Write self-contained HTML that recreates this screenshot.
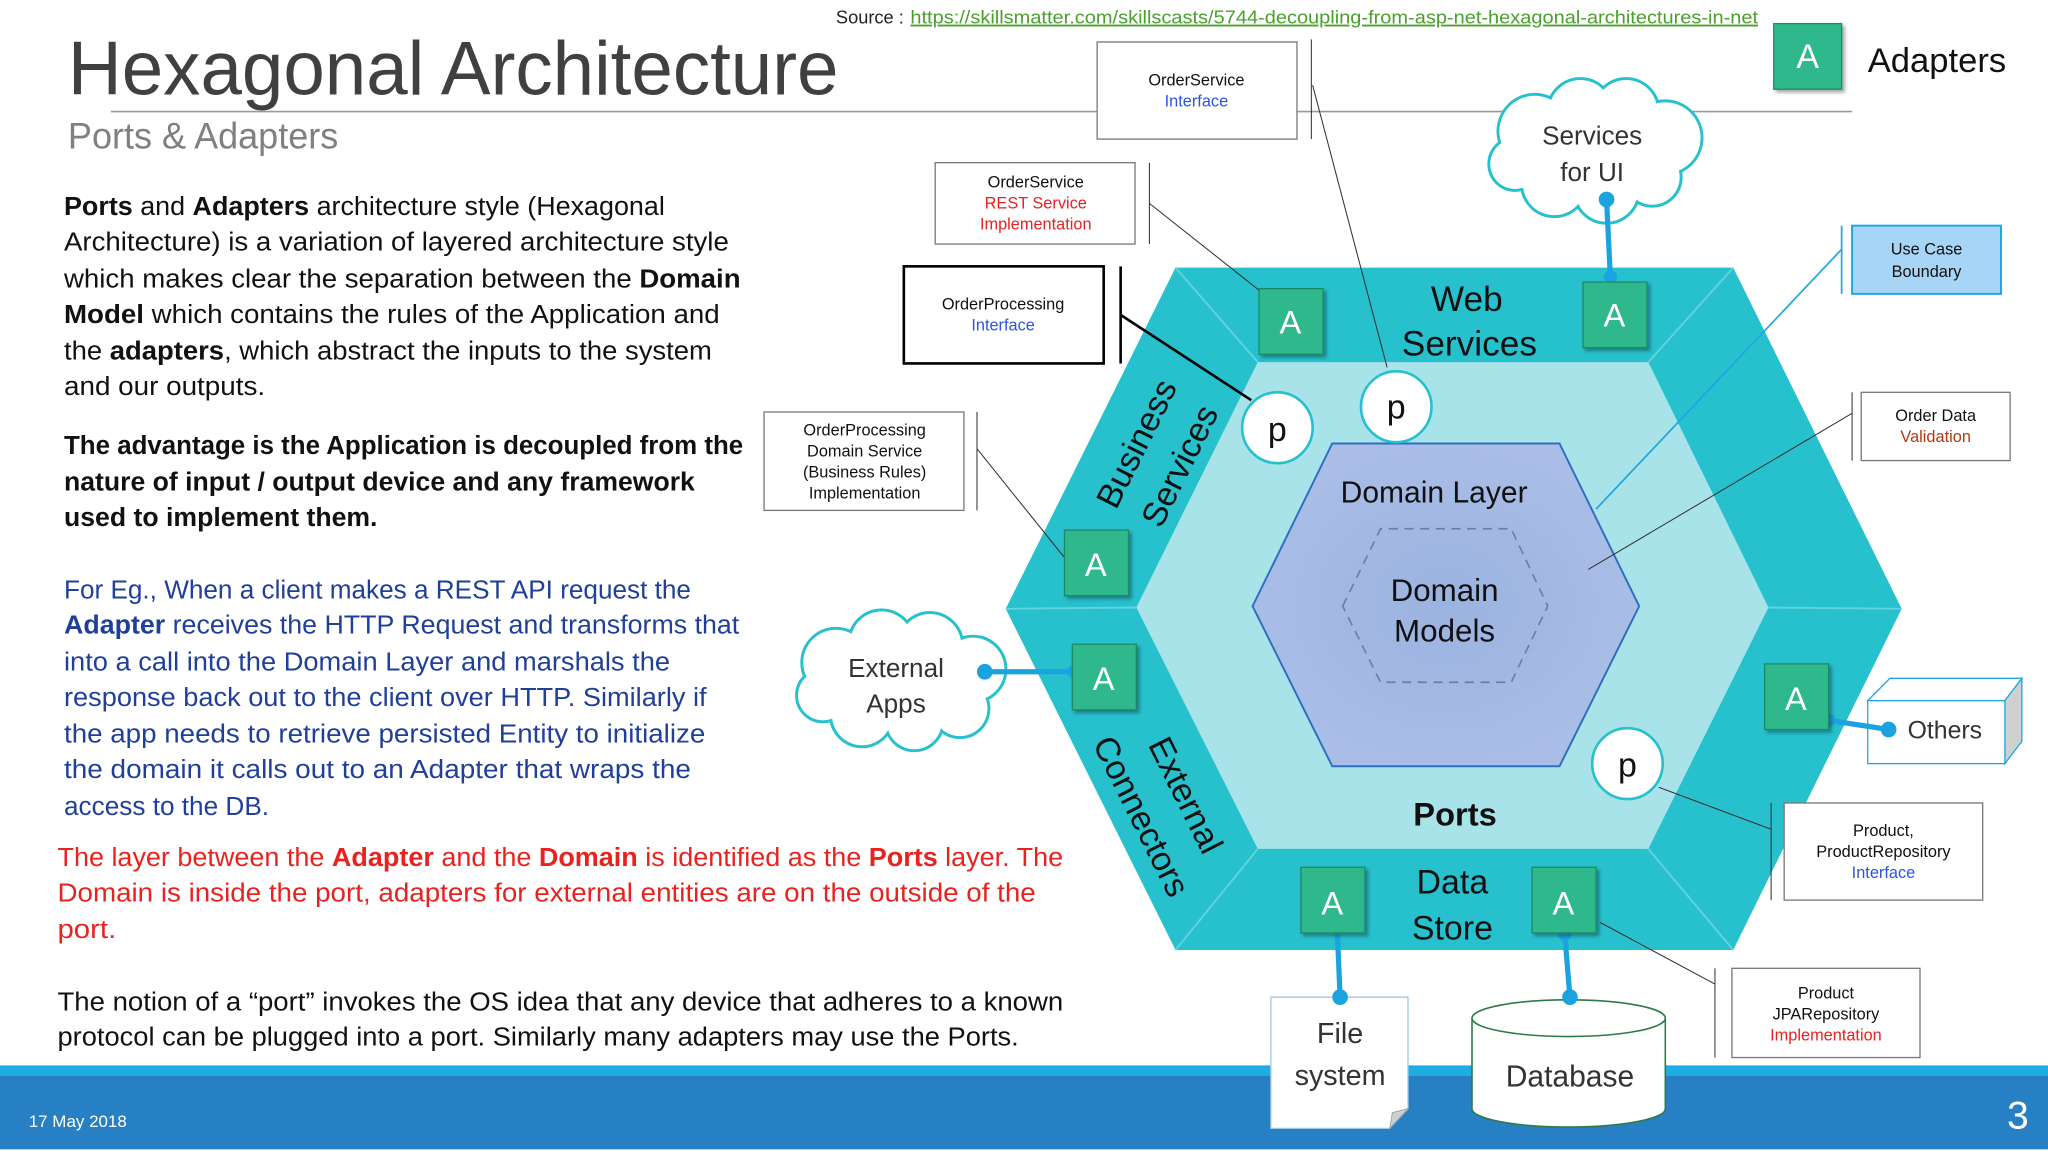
<!DOCTYPE html>
<html><head><meta charset="utf-8"><style>
html,body{margin:0;padding:0;background:#fff;}
svg{display:block;}
text{font-family:"Liberation Sans",sans-serif;}
.c{font-family:"DejaVu Sans Condensed","Liberation Sans",sans-serif;}
</style></head><body>
<svg width="2048" height="1152" viewBox="0 0 1568 878" preserveAspectRatio="none" xmlns="http://www.w3.org/2000/svg">
<defs>
<radialGradient id="dm" cx="50%" cy="50%" r="50%"><stop offset="0" stop-color="#9bb3e0"/><stop offset="1" stop-color="#a9bde6"/></radialGradient>
<filter id="sh" x="-20%" y="-20%" width="150%" height="150%"><feDropShadow dx="2" dy="2" stdDeviation="1.5" flood-opacity="0.35"/></filter>
</defs>
<rect width="1568" height="878" fill="#fff"/>

<!-- title -->
<text x="640" y="18" font-size="14" fill="#222" textLength="52" lengthAdjust="spacingAndGlyphs">Source :</text>
<text x="697" y="18" font-size="14" fill="#4aa02c" text-decoration="underline" textLength="649" lengthAdjust="spacingAndGlyphs">https://skillsmatter.com/skillscasts/5744-decoupling-from-asp-net-hexagonal-architectures-in-net</text>
<text x="52" y="72" font-size="58" fill="#404040" textLength="590" lengthAdjust="spacingAndGlyphs">Hexagonal Architecture</text>
<line x1="85" y1="85" x2="1418" y2="85" stroke="#999" stroke-width="1.2"/>
<text x="52" y="113" font-size="28" fill="#808080" textLength="207" lengthAdjust="spacingAndGlyphs">Ports &amp; Adapters</text>

<!-- legend -->
<rect x="1358" y="18" width="52" height="50" fill="#2fb88c" stroke="#1e8a66" filter="url(#sh)"/>
<text x="1384" y="52" font-size="26" fill="#fff" text-anchor="middle">A</text>
<text x="1430" y="55" font-size="26" fill="#111" textLength="106" lengthAdjust="spacingAndGlyphs">Adapters</text>

<!-- body text -->
<g font-size="20" fill="#111">
<text x="49" y="164" textLength="460" lengthAdjust="spacingAndGlyphs"><tspan font-weight="bold">Ports</tspan> and <tspan font-weight="bold">Adapters</tspan>  architecture style (Hexagonal</text>
<text x="49" y="191" textLength="509" lengthAdjust="spacingAndGlyphs">Architecture) is a variation of layered architecture style</text>
<text x="49" y="219" textLength="518" lengthAdjust="spacingAndGlyphs">which makes  clear the separation between the <tspan font-weight="bold">Domain</tspan></text>
<text x="49" y="246" textLength="502" lengthAdjust="spacingAndGlyphs"><tspan font-weight="bold">Model</tspan> which contains the rules of the Application and</text>
<text x="49" y="274" textLength="496" lengthAdjust="spacingAndGlyphs">the <tspan font-weight="bold">adapters</tspan>, which abstract the inputs to the system</text>
<text x="49" y="301" textLength="154" lengthAdjust="spacingAndGlyphs">and our outputs.</text>
<g font-weight="bold">
<text x="49" y="346" textLength="520" lengthAdjust="spacingAndGlyphs">The advantage is the Application is decoupled from the</text>
<text x="49" y="374" textLength="483" lengthAdjust="spacingAndGlyphs">nature of input / output device and any framework</text>
<text x="49" y="401" textLength="240" lengthAdjust="spacingAndGlyphs">used to implement them.</text>
</g>
<g fill="#1f3f9a">
<text x="49" y="456" textLength="480" lengthAdjust="spacingAndGlyphs">For Eg., When a client makes a REST API request the</text>
<text x="49" y="483" textLength="517" lengthAdjust="spacingAndGlyphs"><tspan font-weight="bold">Adapter</tspan> receives the HTTP Request and transforms that</text>
<text x="49" y="511" textLength="464" lengthAdjust="spacingAndGlyphs">into a call into the Domain Layer and marshals the</text>
<text x="49" y="538" textLength="492" lengthAdjust="spacingAndGlyphs">response back out to the client over HTTP. Similarly if</text>
<text x="49" y="566" textLength="491" lengthAdjust="spacingAndGlyphs">the app needs to retrieve persisted Entity to initialize</text>
<text x="49" y="593" textLength="480" lengthAdjust="spacingAndGlyphs">the domain it calls out to an Adapter that wraps the</text>
<text x="49" y="621" textLength="157" lengthAdjust="spacingAndGlyphs">access to the DB.</text>
</g>
<g fill="#e8231f">
<text x="44" y="660" textLength="770" lengthAdjust="spacingAndGlyphs">The layer between the <tspan font-weight="bold">Adapter</tspan> and the <tspan font-weight="bold">Domain</tspan> is identified as the <tspan font-weight="bold">Ports</tspan> layer. The</text>
<text x="44" y="687" textLength="749" lengthAdjust="spacingAndGlyphs">Domain is inside the port, adapters for external entities are on the outside of the</text>
<text x="44" y="715" textLength="45" lengthAdjust="spacingAndGlyphs">port.</text>
</g>
<text x="44" y="770" textLength="770" lengthAdjust="spacingAndGlyphs">The notion of a “port” invokes the OS idea that any device that adheres to a known</text>
<text x="44" y="797" textLength="736" lengthAdjust="spacingAndGlyphs">protocol can be plugged into a port. Similarly many adapters may use the Ports.</text>
</g>

<!-- hexagons -->
<polygon points="770,464 900,204 1327,204 1456,464 1327,724 900,724" fill="#27c0cd"/>
<polygon points="870,463 963,276 1262,276 1354,463 1262,647 963,647" fill="#a8e3ea"/>
<g stroke="#5fd3de" stroke-width="1.5">
<line x1="770" y1="464" x2="870" y2="463"/><line x1="1456" y1="464" x2="1354" y2="463"/>
<line x1="900" y1="204" x2="963" y2="276"/><line x1="1327" y1="204" x2="1262" y2="276"/>
<line x1="900" y1="724" x2="963" y2="647"/><line x1="1327" y1="724" x2="1262" y2="647"/>
</g>
<polygon points="959,462 1020,338 1194,338 1255,462 1194,584 1020,584" fill="url(#dm)" stroke="#2e6fc0" stroke-width="1.5"/>
<polygon points="1028,462 1057,403 1157,403 1185,462 1157,520 1057,520" fill="none" stroke="#6f7fa0" stroke-width="1.3" stroke-dasharray="7,5"/>

<text x="1123" y="237" font-size="27" fill="#111" text-anchor="middle">Web</text>
<text x="1125" y="271" font-size="27" fill="#111" text-anchor="middle">Services</text>
<text x="1098" y="383" font-size="23" fill="#111" text-anchor="middle">Domain Layer</text>
<text x="1106" y="458" font-size="24" fill="#111" text-anchor="middle">Domain</text>
<text x="1106" y="489" font-size="24" fill="#111" text-anchor="middle">Models</text>
<text x="1114" y="629" font-size="25" font-weight="bold" fill="#111" text-anchor="middle">Ports</text>
<text x="1112" y="681" font-size="26" fill="#111" text-anchor="middle">Data</text>
<text x="1112" y="716" font-size="26" fill="#111" text-anchor="middle">Store</text>
<text transform="translate(870,338) rotate(-63.4)" font-size="26" fill="#111" text-anchor="middle" dy="9">Business</text>
<text transform="translate(903,355) rotate(-63.4)" font-size="26" fill="#111" text-anchor="middle" dy="9">Services</text>
<text transform="translate(908,606) rotate(63.4)" font-size="26" fill="#111" text-anchor="middle" dy="9">External</text>
<text transform="translate(874,622) rotate(63.4)" font-size="26" fill="#111" text-anchor="middle" dy="9">Connectors</text>

<!-- thin connector lines -->
<g stroke="#333" stroke-width="0.8" fill="none">
<line x1="1005" y1="65" x2="1062" y2="280"/>
<line x1="880" y1="155" x2="965" y2="222"/>
<line x1="748" y1="342" x2="815" y2="425"/>
<line x1="1418" y1="315" x2="1216" y2="434"/>
<line x1="1356" y1="632" x2="1270" y2="600"/>
<line x1="1313" y1="750" x2="1225" y2="703"/>
<line x1="1004" y1="30" x2="1004" y2="106"/>
<line x1="880" y1="124" x2="880" y2="186"/>
<line x1="748" y1="314" x2="748" y2="389"/>
<line x1="1418" y1="299" x2="1418" y2="351"/>
<line x1="1356" y1="612" x2="1356" y2="686"/>
<line x1="1313" y1="738" x2="1313" y2="806"/>
</g>
<line x1="858" y1="240" x2="958" y2="305" stroke="#000" stroke-width="2"/>
<line x1="858" y1="203" x2="858" y2="277" stroke="#000" stroke-width="2"/>
<line x1="1410" y1="190" x2="1222" y2="388" stroke="#1fa6e0" stroke-width="1.3"/>
<line x1="1410" y1="172" x2="1410" y2="224" stroke="#1fa6e0" stroke-width="1.3"/>

<!-- side boxes -->
<g font-size="12.5" text-anchor="middle" class="c">
<rect x="840" y="32" width="153" height="74" fill="#fff" stroke="#777"/>
<text x="916" y="65" fill="#111">OrderService</text><text x="916" y="81" fill="#2a55e0">Interface</text>
<rect x="716" y="124" width="153" height="62" fill="#fff" stroke="#777"/>
<text x="793" y="143" fill="#111">OrderService</text><text x="793" y="159" fill="#e82020">REST Service</text><text x="793" y="175" fill="#e82020">Implementation</text>
<rect x="692" y="203" width="153" height="74" fill="#fff" stroke="#000" stroke-width="2"/>
<text x="768" y="236" fill="#111">OrderProcessing</text><text x="768" y="252" fill="#2a55e0">Interface</text>
<rect x="585" y="314" width="153" height="75" fill="#fff" stroke="#777"/>
<text x="662" y="332" fill="#111">OrderProcessing</text><text x="662" y="348" fill="#111">Domain Service</text><text x="662" y="364" fill="#111">(Business Rules)</text><text x="662" y="380" fill="#111">Implementation</text>
<rect x="1418" y="172" width="114" height="52" fill="#a7d5f6" stroke="#1fa6e0" stroke-width="1.5"/>
<text x="1475" y="194" fill="#111">Use Case</text><text x="1475" y="211" fill="#111">Boundary</text>
<rect x="1425" y="299" width="114" height="52" fill="#fff" stroke="#777"/>
<text x="1482" y="321" fill="#111">Order Data</text><text x="1482" y="337" fill="#b03a10">Validation</text>
<rect x="1366" y="612" width="152" height="74" fill="#fff" stroke="#777"/>
<text x="1442" y="637" fill="#111">Product,</text><text x="1442" y="653" fill="#111">ProductRepository</text><text x="1442" y="669" fill="#2a55e0">Interface</text>
<rect x="1326" y="738" width="144" height="68" fill="#fff" stroke="#777"/>
<text x="1398" y="761" fill="#111">Product</text><text x="1398" y="777" fill="#111">JPARepository</text><text x="1398" y="793" fill="#e82020">Implementation</text>
</g>

<!-- Others box -->
<polygon points="1430,534 1447,517 1548,517 1535,534" fill="#fff" stroke="#1fa6e0"/>
<polygon points="1535,534 1548,517 1548,565 1535,582" fill="#d0d0d0" stroke="#1fa6e0"/>
<rect x="1430" y="534" width="105" height="48" fill="#fff" stroke="#1fa6e0"/>
<text x="1489" y="563" font-size="19" fill="#333" text-anchor="middle">Others</text>

<!-- clouds -->
<g stroke="#27c0cd" stroke-width="2.5" fill="#fff">
<g id="cl1"><circle cx="1175" cy="100" r="28"/><circle cx="1210" cy="85" r="25"/><circle cx="1245" cy="85" r="25"/><circle cx="1275" cy="105" r="28"/><circle cx="1265" cy="135" r="22"/><circle cx="1230" cy="145" r="25"/><circle cx="1190" cy="140" r="25"/><circle cx="1160" cy="125" r="20"/></g>
<g><circle cx="640" cy="505" r="26"/><circle cx="675" cy="490" r="25"/><circle cx="712" cy="492" r="25"/><circle cx="745" cy="510" r="25"/><circle cx="735" cy="540" r="22"/><circle cx="700" cy="550" r="22"/><circle cx="660" cy="545" r="24"/><circle cx="630" cy="530" r="20"/></g>
</g>
<g fill="#fff">
<circle cx="1175" cy="100" r="27"/><circle cx="1210" cy="85" r="24"/><circle cx="1245" cy="85" r="24"/><circle cx="1275" cy="105" r="27"/><circle cx="1265" cy="135" r="21"/><circle cx="1230" cy="145" r="24"/><circle cx="1190" cy="140" r="24"/><circle cx="1160" cy="125" r="19"/><rect x="1170" y="90" width="100" height="50"/>
<circle cx="640" cy="505" r="25"/><circle cx="675" cy="490" r="24"/><circle cx="712" cy="492" r="24"/><circle cx="745" cy="510" r="24"/><circle cx="735" cy="540" r="21"/><circle cx="700" cy="550" r="21"/><circle cx="660" cy="545" r="23"/><circle cx="630" cy="530" r="19"/><rect x="640" y="495" width="100" height="50"/>
</g>
<text x="1219" y="110" font-size="20" fill="#333" text-anchor="middle">Services</text>
<text x="1219" y="138" font-size="20" fill="#333" text-anchor="middle">for UI</text>
<text x="686" y="516" font-size="20" fill="#333" text-anchor="middle">External</text>
<text x="686" y="543" font-size="20" fill="#333" text-anchor="middle">Apps</text>

<!-- footer -->
<rect x="0" y="812" width="1568" height="9" fill="#1dade2"/>
<rect x="0" y="820" width="1568" height="56" fill="#2780c4"/>
<text x="22" y="859" font-size="13" fill="#fff">17 May 2018</text>
<text x="1545" y="860" font-size="30" fill="#fff" text-anchor="middle">3</text>

<!-- file system -->
<path d="M973,760 H1078 V845 L1064,860 H973 Z" fill="#fff" stroke="#9cc9e8" stroke-width="1"/>
<path d="M1064,860 L1066,848 L1078,845 Z" fill="#cfcfcf" stroke="#999" stroke-width="0.6"/>
<text x="1026" y="795" font-size="22" fill="#333" text-anchor="middle">File</text>
<text x="1026" y="827" font-size="22" fill="#333" text-anchor="middle">system</text>
<!-- database -->
<path d="M1127,776 V845 A74,14 0 0 0 1275,845 V776" fill="#fff" stroke="#2e7a4a" stroke-width="1.2"/>
<ellipse cx="1201" cy="776" rx="74" ry="14" fill="#fff" stroke="#2e7a4a" stroke-width="1.2"/>
<text x="1202" y="828" font-size="23" fill="#333" text-anchor="middle">Database</text>

<!-- blue connectors -->
<g stroke="#1ba3df" stroke-width="4" fill="#1ba3df">
<line x1="1230" y1="152" x2="1233" y2="212"/><circle cx="1230" cy="152" r="6" stroke="none"/><circle cx="1233" cy="211" r="5" stroke="none"/>
<line x1="754" y1="512" x2="822" y2="512"/><circle cx="754" cy="512" r="6" stroke="none"/><circle cx="822" cy="512" r="5" stroke="none"/>
<line x1="1400" y1="549" x2="1446" y2="556"/><circle cx="1446" cy="556" r="6" stroke="none"/><circle cx="1400" cy="549" r="5" stroke="none"/>
<line x1="1024" y1="712" x2="1026" y2="760"/><circle cx="1026" cy="760" r="6" stroke="none"/>
<line x1="1198" y1="712" x2="1202" y2="760"/><circle cx="1202" cy="760" r="6" stroke="none"/><circle cx="1198" cy="712" r="5" stroke="none"/>
</g>

<!-- adapters -->
<g fill="#2fb88c" stroke="#1e8a66" stroke-width="1" filter="url(#sh)">
<rect x="964" y="220" width="49" height="50"/>
<rect x="1212" y="215" width="49" height="50"/>
<rect x="815" y="404" width="49" height="50"/>
<rect x="821" y="491" width="49" height="50"/>
<rect x="1351" y="506" width="49" height="50"/>
<rect x="996" y="661" width="49" height="50"/>
<rect x="1173" y="661" width="49" height="50"/>
</g>
<g font-size="25" fill="#fff" text-anchor="middle">
<text x="988" y="254">A</text><text x="1236" y="249">A</text><text x="839" y="439">A</text><text x="845" y="526">A</text><text x="1375" y="541">A</text><text x="1020" y="697">A</text><text x="1197" y="697">A</text>
</g>

<!-- ports -->
<g fill="#fff" stroke="#27c0cd" stroke-width="2">
<circle cx="978" cy="326" r="27"/><circle cx="1069" cy="310" r="27"/><circle cx="1246" cy="582" r="27"/>
</g>
<g font-size="26" fill="#111" text-anchor="middle">
<text x="978" y="336">p</text><text x="1069" y="319">p</text><text x="1246" y="592">p</text>
</g>
</svg>
</body></html>
